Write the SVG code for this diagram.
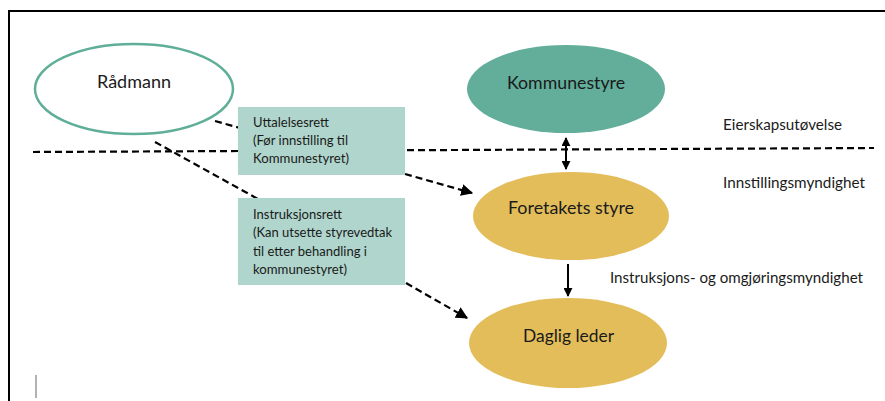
<svg xmlns="http://www.w3.org/2000/svg" width="885" height="401" viewBox="0 0 885 401">
<defs>
<marker id="ah" viewBox="0 0 10 10" refX="9" refY="5" markerWidth="5.5" markerHeight="5.5" orient="auto-start-reverse" markerUnits="strokeWidth">
<path d="M0,0 L10,5 L0,10 Z" fill="#000"/>
</marker>
<marker id="ah2" viewBox="0 0 10 10" refX="9" refY="5" markerWidth="4.5" markerHeight="4.5" orient="auto-start-reverse" markerUnits="strokeWidth">
<path d="M0,0 L10,5 L0,10 Z" fill="#000"/>
</marker>
</defs>
<style>
text{font-family:Lato,"Liberation Sans",sans-serif;fill:#1a1a1a}
.node{font-size:17.5px}
.lab{font-size:14.5px}
.box{font-size:13.5px}
.dash{stroke:#000;stroke-width:2.2;stroke-dasharray:7,4;fill:none}
.solid{stroke:#000;stroke-width:2;fill:none}
</style>
<rect width="885" height="401" fill="#fff"/>
<path d="M9,401 L9,11 L885,11" fill="none" stroke="#000" stroke-width="2"/>
<line x1="36" y1="375" x2="36" y2="398" stroke="#999" stroke-width="1.5"/>

<g id="connectors">
<line class="dash" x1="33" y1="152" x2="874" y2="148"/>
<line class="dash" x1="215" y1="121" x2="240" y2="128"/>
<line class="dash" x1="155" y1="142" x2="258" y2="199"/>
<line class="dash" x1="405" y1="174" x2="472" y2="193" marker-end="url(#ah)"/>
<line class="dash" x1="406" y1="283" x2="467" y2="318" marker-end="url(#ah)"/>
<line class="solid" x1="566" y1="138" x2="566" y2="169" marker-start="url(#ah2)" marker-end="url(#ah2)"/>
<line class="solid" x1="568" y1="264" x2="568" y2="296" marker-end="url(#ah2)"/>
</g>

<g id="radmann">
<ellipse cx="134" cy="89" rx="99" ry="45" fill="#fff" stroke="#5FAE98" stroke-width="2.5"/>
<text class="node" x="97" y="88" textLength="74" lengthAdjust="spacingAndGlyphs">Rådmann</text>
</g>

<g id="kommunestyre">
<ellipse cx="566" cy="89" rx="99" ry="44" fill="#62AE9A"/>
<text class="node" x="507" y="89" textLength="118" lengthAdjust="spacingAndGlyphs">Kommunestyre</text>
</g>

<g id="foretakets-styre">
<ellipse cx="571" cy="216" rx="98" ry="44" fill="#E3BD5A"/>
<text class="node" x="508" y="214" textLength="126" lengthAdjust="spacingAndGlyphs">Foretakets styre</text>
</g>

<g id="daglig-leder">
<ellipse cx="568" cy="343" rx="99" ry="45" fill="#E3BD5A"/>
<text class="node" x="523" y="342" textLength="91" lengthAdjust="spacingAndGlyphs">Daglig leder</text>
</g>

<g id="uttalelsesrett">
<rect x="238" y="107" width="167" height="68" fill="#AFD5CC"/>
<text class="box" x="253" y="127" textLength="76" lengthAdjust="spacingAndGlyphs">Uttalelsesrett</text>
<text class="box" x="253" y="145" textLength="95" lengthAdjust="spacingAndGlyphs">(Før innstilling til</text>
<text class="box" x="253" y="163" textLength="96" lengthAdjust="spacingAndGlyphs">Kommunestyret)</text>
</g>

<g id="instruksjonsrett">
<rect x="238" y="198" width="167" height="87" fill="#AFD5CC"/>
<text class="box" x="253" y="219" textLength="89" lengthAdjust="spacingAndGlyphs">Instruksjonsrett</text>
<text class="box" x="253" y="237" textLength="139" lengthAdjust="spacingAndGlyphs">(Kan utsette styrevedtak</text>
<text class="box" x="253" y="256" textLength="114" lengthAdjust="spacingAndGlyphs">til etter behandling i</text>
<text class="box" x="253" y="274" textLength="94" lengthAdjust="spacingAndGlyphs">kommunestyret)</text>
</g>

<g id="labels">
<text class="lab" x="723" y="130" textLength="119" lengthAdjust="spacingAndGlyphs">Eierskapsutøvelse</text>
<text class="lab" x="723" y="188" textLength="142" lengthAdjust="spacingAndGlyphs">Innstillingsmyndighet</text>
<text class="lab" x="610" y="283" textLength="253" lengthAdjust="spacingAndGlyphs">Instruksjons- og omgjøringsmyndighet</text>
</g>
</svg>
